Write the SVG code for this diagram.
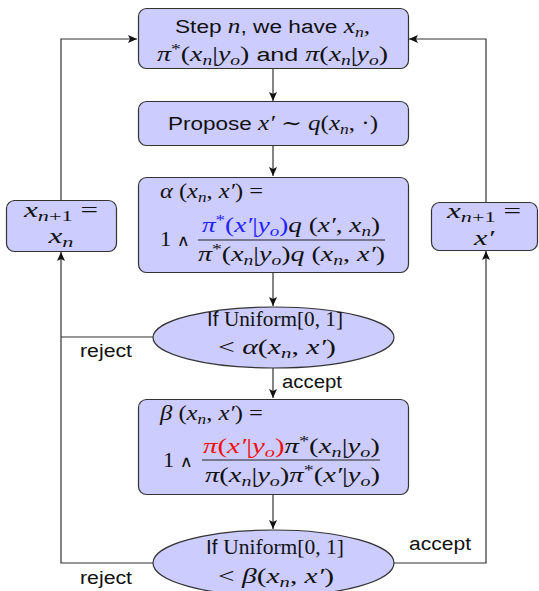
<svg xmlns="http://www.w3.org/2000/svg" width="539" height="591" viewBox="0 0 539 591">
<style>
.box{fill:#ccccff;stroke:#333;stroke-width:1.2}
.ln{fill:none;stroke:#333;stroke-width:1.2}
text{font-family:"Liberation Serif","DejaVu Serif",serif;font-size:20px;fill:#111}
.s{font-family:"Liberation Sans",Arial,sans-serif;font-style:normal;font-size:18px}
.si{font-family:"Liberation Sans",Arial,sans-serif;font-style:normal;font-size:21px}
.m{font-style:italic}
.r{font-style:normal}
.u{font-style:normal;font-size:22px}
.op{font-family:"DejaVu Serif",serif;font-style:normal;font-size:16px}
.sb{font-size:14px;baseline-shift:-4px}
.sp{font-size:14px;baseline-shift:7px}
.big{font-size:21px}
.big .sb{font-size:15px;baseline-shift:-4px}
.lbl{font-family:"Liberation Sans",Arial,sans-serif;font-size:18px;fill:#111}
.blue{fill:#2222ff}
.red{fill:#ee1111}
</style>
<defs>
<marker id="ah" markerWidth="10" markerHeight="8" refX="9" refY="4" orient="auto" markerUnits="userSpaceOnUse">
<path d="M0,0 L9,4 L0,8 L2,4 z" fill="#111"/>
</marker>
</defs>
<g id="connectors">
<path class="ln" d="M273,69 V101" marker-end="url(#ah)"/>
<path class="ln" d="M273,145 V176" marker-end="url(#ah)"/>
<path class="ln" d="M273,273 V306" marker-end="url(#ah)"/>
<path class="ln" d="M273,368 V398" marker-end="url(#ah)"/>
<path class="ln" d="M273,494 V529" marker-end="url(#ah)"/>
<path class="ln" d="M153,337 H61"/>
<path class="ln" d="M153,563 H61 V252" marker-end="url(#ah)"/>
<path class="ln" d="M61,200 V39 H137" marker-end="url(#ah)"/>
<path class="ln" d="M394,563 H486 V251" marker-end="url(#ah)"/>
<path class="ln" d="M486,202 V39 H409" marker-end="url(#ah)"/>
<text class="lbl" x="80" y="357" textLength="52" lengthAdjust="spacingAndGlyphs">reject</text>
<text class="lbl" x="282" y="388" textLength="60" lengthAdjust="spacingAndGlyphs">accept</text>
<text class="lbl" x="409" y="550" textLength="62" lengthAdjust="spacingAndGlyphs">accept</text>
<text class="lbl" x="80" y="584" textLength="52" lengthAdjust="spacingAndGlyphs">reject</text>
</g>
<g id="step">
<rect class="box" x="138.5" y="8.5" width="270" height="60" rx="8"/>
<text x="272.5" y="33" text-anchor="middle" textLength="195" lengthAdjust="spacingAndGlyphs"><tspan class="s">Step </tspan><tspan class="m">n</tspan><tspan class="s">, we have </tspan><tspan class="m">x</tspan><tspan class="m sb">n</tspan><tspan class="m">,</tspan></text>
<text x="272.5" y="61" text-anchor="middle" textLength="231" lengthAdjust="spacingAndGlyphs"><tspan class="m">π</tspan><tspan class="sp">*</tspan><tspan class="r">(</tspan><tspan class="m">x</tspan><tspan class="m sb">n</tspan><tspan class="r">|</tspan><tspan class="m">y</tspan><tspan class="m sb">o</tspan><tspan class="r">)</tspan><tspan class="s"> and </tspan><tspan class="m">π</tspan><tspan class="r">(</tspan><tspan class="m">x</tspan><tspan class="m sb">n</tspan><tspan class="r">|</tspan><tspan class="m">y</tspan><tspan class="m sb">o</tspan><tspan class="r">)</tspan></text>
</g>
<g id="propose">
<rect class="box" x="138.5" y="101.5" width="270" height="44" rx="8"/>
<text x="273" y="130" text-anchor="middle" textLength="210" lengthAdjust="spacingAndGlyphs"><tspan class="s">Propose </tspan><tspan class="m">x′</tspan><tspan class="r"> ∼ </tspan><tspan class="m">q</tspan><tspan class="r">(</tspan><tspan class="m">x</tspan><tspan class="m sb">n</tspan><tspan class="r">, ·)</tspan></text>
</g>
<g id="alpha">
<rect class="box" x="138.5" y="177.5" width="270" height="95" rx="8"/>
<text x="160" y="198" textLength="103" lengthAdjust="spacingAndGlyphs"><tspan class="m">α</tspan><tspan class="r"> (</tspan><tspan class="m">x</tspan><tspan class="m sb">n</tspan><tspan class="r">, </tspan><tspan class="m">x′</tspan><tspan class="r">) =</tspan></text>
<text x="160" y="246" textLength="30" lengthAdjust="spacingAndGlyphs"><tspan class="r">1 </tspan><tspan class="op">∧</tspan></text>
<text x="291" y="232" text-anchor="middle" textLength="178" lengthAdjust="spacingAndGlyphs"><tspan class="m blue">π</tspan><tspan class="sp blue">*</tspan><tspan class="r blue">(</tspan><tspan class="m blue">x′</tspan><tspan class="r blue">|</tspan><tspan class="m blue">y</tspan><tspan class="m sb blue">o</tspan><tspan class="r blue">)</tspan><tspan class="m">q</tspan><tspan class="r"> (</tspan><tspan class="m">x′</tspan><tspan class="r">, </tspan><tspan class="m">x</tspan><tspan class="m sb">n</tspan><tspan class="r">)</tspan></text>
<line x1="198" y1="240" x2="385" y2="240" stroke="#222" stroke-width="1"/>
<text x="291.5" y="261" text-anchor="middle" textLength="187" lengthAdjust="spacingAndGlyphs"><tspan class="m">π</tspan><tspan class="sp">*</tspan><tspan class="r">(</tspan><tspan class="m">x</tspan><tspan class="m sb">n</tspan><tspan class="r">|</tspan><tspan class="m">y</tspan><tspan class="m sb">o</tspan><tspan class="r">)</tspan><tspan class="m">q</tspan><tspan class="r"> (</tspan><tspan class="m">x</tspan><tspan class="m sb">n</tspan><tspan class="r">, </tspan><tspan class="m">x′</tspan><tspan class="r">)</tspan></text>
</g>
<g id="test1">
<ellipse class="box" cx="273.5" cy="337.5" rx="120.5" ry="30.5"/>
<text x="275" y="326" text-anchor="middle" textLength="136" lengthAdjust="spacingAndGlyphs"><tspan class="si">If </tspan><tspan class="u">Uniform[0, 1]</tspan></text>
<text x="277" y="354" text-anchor="middle" textLength="118" lengthAdjust="spacingAndGlyphs"><tspan class="r">&lt; </tspan><tspan class="m">α</tspan><tspan class="r">(</tspan><tspan class="m">x</tspan><tspan class="m sb">n</tspan><tspan class="r">, </tspan><tspan class="m">x′</tspan><tspan class="r">)</tspan></text>
</g>
<g id="beta">
<rect class="box" x="138.5" y="399.5" width="270" height="95" rx="8"/>
<text x="160" y="420" textLength="103" lengthAdjust="spacingAndGlyphs"><tspan class="m">β</tspan><tspan class="r"> (</tspan><tspan class="m">x</tspan><tspan class="m sb">n</tspan><tspan class="r">, </tspan><tspan class="m">x′</tspan><tspan class="r">) =</tspan></text>
<text x="163" y="467" textLength="30" lengthAdjust="spacingAndGlyphs"><tspan class="r">1 </tspan><tspan class="op">∧</tspan></text>
<text x="291.5" y="453" text-anchor="middle" textLength="177" lengthAdjust="spacingAndGlyphs"><tspan class="m red">π</tspan><tspan class="r red">(</tspan><tspan class="m red">x′</tspan><tspan class="r red">|</tspan><tspan class="m red">y</tspan><tspan class="m sb red">o</tspan><tspan class="r red">)</tspan><tspan class="m">π</tspan><tspan class="sp">*</tspan><tspan class="r">(</tspan><tspan class="m">x</tspan><tspan class="m sb">n</tspan><tspan class="r">|</tspan><tspan class="m">y</tspan><tspan class="m sb">o</tspan><tspan class="r">)</tspan></text>
<line x1="202" y1="460" x2="380" y2="460" stroke="#222" stroke-width="1"/>
<text x="292.5" y="482" text-anchor="middle" textLength="175" lengthAdjust="spacingAndGlyphs"><tspan class="m">π</tspan><tspan class="r">(</tspan><tspan class="m">x</tspan><tspan class="m sb">n</tspan><tspan class="r">|</tspan><tspan class="m">y</tspan><tspan class="m sb">o</tspan><tspan class="r">)</tspan><tspan class="m">π</tspan><tspan class="sp">*</tspan><tspan class="r">(</tspan><tspan class="m">x′</tspan><tspan class="r">|</tspan><tspan class="m">y</tspan><tspan class="m sb">o</tspan><tspan class="r">)</tspan></text>
</g>
<g id="test2">
<ellipse class="box" cx="273.5" cy="563" rx="120.5" ry="33"/>
<text x="275" y="554" text-anchor="middle" textLength="138" lengthAdjust="spacingAndGlyphs"><tspan class="si">If </tspan><tspan class="u">Uniform[0, 1]</tspan></text>
<text x="276" y="583" text-anchor="middle" textLength="116" lengthAdjust="spacingAndGlyphs"><tspan class="r">&lt; </tspan><tspan class="m">β</tspan><tspan class="r">(</tspan><tspan class="m">x</tspan><tspan class="m sb">n</tspan><tspan class="r">, </tspan><tspan class="m">x′</tspan><tspan class="r">)</tspan></text>
</g>
<g id="keep">
<rect class="box" x="6.5" y="200.5" width="110" height="51" rx="8"/>
<text class="big" x="61" y="217" text-anchor="middle" textLength="74" lengthAdjust="spacingAndGlyphs"><tspan class="m">x</tspan><tspan class="m sb">n</tspan><tspan class="r sb">+1</tspan><tspan class="r"> =</tspan></text>
<text class="big" x="61" y="243" text-anchor="middle" textLength="25" lengthAdjust="spacingAndGlyphs"><tspan class="m">x</tspan><tspan class="m sb">n</tspan></text>
</g>
<g id="move">
<rect class="box" x="431.5" y="202.5" width="106" height="48" rx="8"/>
<text class="big" x="484" y="218" text-anchor="middle" textLength="74" lengthAdjust="spacingAndGlyphs"><tspan class="m">x</tspan><tspan class="m sb">n</tspan><tspan class="r sb">+1</tspan><tspan class="r"> =</tspan></text>
<text class="big" x="484" y="245" text-anchor="middle" textLength="20" lengthAdjust="spacingAndGlyphs"><tspan class="m">x′</tspan></text>
</g>
</svg>
